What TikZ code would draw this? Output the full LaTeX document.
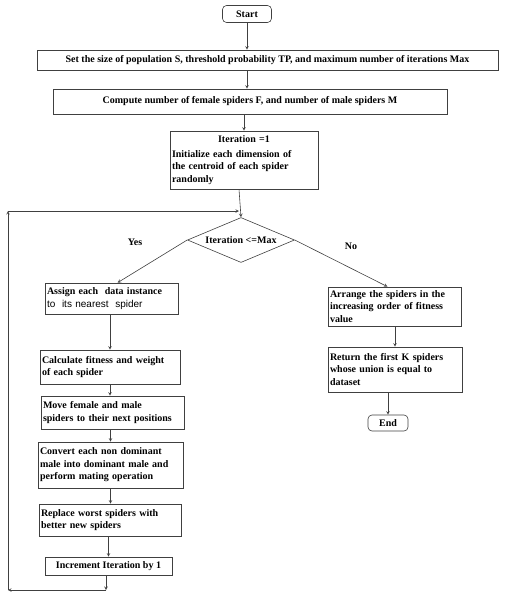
\documentclass[tikz,border=0pt]{standalone}
\usepackage{fontspec}
\setmainfont{Liberation Serif}
\setsansfont{Liberation Sans}
\usetikzlibrary{shapes.geometric}

\begin{document}
\begin{tikzpicture}[x=1pt,y=-1pt,line width=0.6pt,draw=black!75,>=stealth,
	every node/.style={font=\fontsize{10}{12.5}\selectfont\bfseries},
	box/.style={draw,rectangle,inner sep=2pt,align=left},
	term/.style={draw,rectangle,rounded corners=4pt,inner sep=0pt},
	decide/.style={draw,diamond,aspect=2.4,inner sep=0pt,minimum width=107,minimum height=45}]
	\useasboundingbox (0,0) rectangle (505,600);

	\node[term,minimum width=49,minimum height=17] (start) at (247,14) {Start};
	\node[box,align=center,minimum width=461,minimum height=20] (set) at (267.5,60) {Set the size of population S, threshold probability TP, and maximum number of iterations Max};
	\node[box,align=center,minimum width=394,minimum height=25] (comp) at (250,101.5) {Compute number of female spiders F, and number of male spiders M};
	\node[box,text width=144,minimum height=58] (init) at (244,160) {\makebox[\linewidth][c]{Iteration =1}\\[2pt]Initialize each dimension of\\the centroid of each spider\\randomly};
	\node[decide] (cond) at (241,240) {Iteration <=Max};

	\node[box,text width=129,minimum height=31] (assign) at (111.5,298.5) {Assign each~ data instance\\{\sffamily\mdseries to~ its nearest~ spider}};
	\node[box,text width=136,minimum height=34] (calc) at (110,367) {Calculate fitness and weight\\of each spider};
	\node[box,text width=139,minimum height=33] (move) at (112.5,412.5) {Move female and male\\spiders to their next positions};
	\node[box,text width=141,minimum height=46] (conv) at (110.5,465) {Convert each non dominant\\male into dominant male and\\perform mating operation};
	\node[box,text width=138,minimum height=32] (repl) at (110,520) {Replace worst spiders with\\better new spiders};
	\node[box,align=center,minimum width=127,minimum height=18] (incr) at (108.5,566) {Increment Iteration by 1};

	\node[box,text width=129,minimum height=39] (arr) at (394.5,306.5) {Arrange the spiders in the\\increasing order of fitness\\value};
	\node[box,text width=130,minimum height=45] (ret) at (395,369.5) {Return the first K spiders\\whose union is equal to\\dataset};
	\node[term,minimum width=40,minimum height=16] (end) at (388,423) {End};

	\node (yes) at (135,242) {Yes};
	\node (no) at (351,246) {No};

	\coordinate (join) at (239,211);
	\coordinate (lp1) at (106,590);
	\coordinate (lp2) at (8,590);
	\coordinate (lp3) at (8,211);

	\draw[->] (start) -- (start |- set.north);
	\draw[->] (set.south -| start) -- (start |- comp.north);
	\draw[->] (comp.south -| init) -- (init.north);
	\draw[->] (init.south -| join) -- (cond.north);
	\draw[->] (cond.west) -- ([xshift=6]assign.north);
	\draw[->] (cond.east) -- ([xshift=-7]arr.north);

	\draw[->] (assign.south -| calc) -- (calc.north);
	\draw[->] (calc.south) -- (calc.south |- move.north);
	\draw[->] (move.south -| conv) -- (conv.north);
	\draw[->] (conv.south) -- (conv.south |- repl.north);
	\draw[->] (repl.south -| incr) -- (incr.north);
	\draw[->] (incr.south -| lp1) -- (lp1);
	\draw[->] (lp1) -- (lp2);
	\draw[->] (lp2) -- (lp3);
	\draw[->] (lp3) -- (join);

	\draw[->] (arr.south -| ret) -- (ret.north);
	\draw[->] (ret.south -| end) -- (end.north);
\end{tikzpicture}
\end{document}
